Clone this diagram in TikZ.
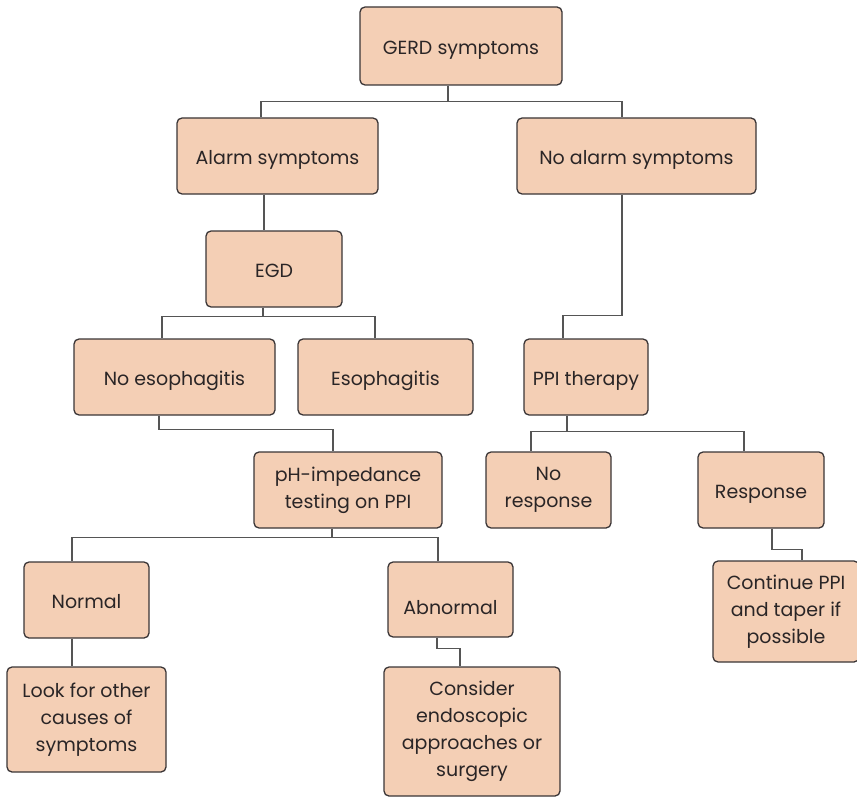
\documentclass[tikz,border=0pt]{standalone}
\usepackage{fontspec}
\setmainfont{Poppins}
\definecolor{peach}{HTML}{F4CFB5}
\definecolor{boxline}{HTML}{3A3536}
\definecolor{wire}{HTML}{555555}
\definecolor{ink}{HTML}{2A2526}
\begin{document}
\begin{tikzpicture}[x=1pt,y=-1pt]
  \tikzstyle{chart}=[draw=boxline,fill=peach,rounded corners=5pt,line width=1.3pt,
    align=center,inner sep=0pt,text=ink,font=\fontsize{19}{27}\selectfont]
  \tikzstyle{oneline}=[chart,text height=17pt,text depth=0pt]
  \tikzstyle{link}=[draw=wire,line width=1.3pt]

  \useasboundingbox (0,0) rectangle (857,797);

  \node[oneline,minimum width=202pt,minimum height=78pt] (gerd)     at (461,46)      {GERD symptoms};
  \node[oneline,minimum width=201pt,minimum height=76pt] (alarm)    at (277.5,156)   {Alarm symptoms};
  \node[oneline,minimum width=239pt,minimum height=76pt] (noalarm)  at (636.5,156)   {No alarm symptoms};
  \node[oneline,minimum width=136pt,minimum height=76pt] (egd)      at (274,269)     {EGD};
  \node[oneline,minimum width=201pt,minimum height=76pt] (noeso)    at (174.5,377)   {No esophagitis};
  \node[oneline,minimum width=175pt,minimum height=76pt] (eso)      at (385.5,377)   {Esophagitis};
  \node[chart,minimum width=188pt,minimum height=76pt]   (ph)       at (348,490)     {pH-impedance\\testing on PPI};
  \node[oneline,minimum width=124pt,minimum height=76pt] (ppi)      at (586,377)     {PPI therapy};
  \node[chart,minimum width=125pt,minimum height=76pt]   (noresp)   at (548.5,490)   {No\\response};
  \node[oneline,minimum width=126pt,minimum height=76pt] (resp)     at (761,490)     {Response};
  \node[chart,minimum width=146pt,minimum height=101pt]  (cont)     at (786,611.5)   {Continue PPI\\and taper if\\possible};
  \node[oneline,minimum width=125pt,minimum height=76pt] (normal)   at (86.5,600)    {Normal};
  \node[oneline,minimum width=125pt,minimum height=75pt,text height=29pt] (abnormal) at (450.5,599.5) {Abnormal};
  \node[chart,minimum width=159pt,minimum height=105pt]  (look)     at (86.5,719.5)  {Look for other\\causes of\\symptoms};
  \node[chart,minimum width=176pt,minimum height=129pt]  (consider) at (472,731.5)   {Consider\\endoscopic\\approaches or\\surgery};

  % elbow connectors
  \draw[link] ([xshift=-13pt]gerd.south) -- ++(0,16) coordinate (bus1) -| ([xshift=-16.5pt]alarm.north);
  \draw[link] (bus1) -| ([xshift=-14.5pt]noalarm.north);
  \draw[link] ([xshift=-13.5pt]alarm.south) -- ([xshift=-10pt]egd.north);
  \draw[link] ([xshift=-14.5pt]noalarm.south) -- ++(0,121) -| ([xshift=-23pt]ppi.north);
  \draw[link] ([xshift=-11pt]egd.south) -- ++(0,9) coordinate (bus2) -| ([xshift=-12.5pt]noeso.north);
  \draw[link] (bus2) -| ([xshift=-10.5pt]eso.north);
  \draw[link] ([xshift=-15.5pt]noeso.south) -- ++(0,14) -| ([xshift=-15pt]ph.north);
  \draw[link] ([xshift=-16pt]ph.south) -- ++(0,9) coordinate (bus3) -| ([xshift=-14.5pt]normal.north);
  \draw[link] (bus3) -| ([xshift=-12.5pt]abnormal.north);
  \draw[link] ([xshift=-14.5pt]normal.south) -- ([xshift=-14.5pt]look.north);
  \draw[link] ([xshift=-13.5pt]abnormal.south) -- ++(0,11) -| ([xshift=-12pt]consider.north);
  \draw[link] ([xshift=-19pt]ppi.south) -- ++(0,16) coordinate (bus4) -| ([xshift=-17.5pt]noresp.north);
  \draw[link] (bus4) -| ([xshift=-17pt]resp.north);
  \draw[link] ([xshift=11pt]resp.south) -- ++(0,21) -| ([xshift=16pt]cont.north);
\end{tikzpicture}
\end{document}
